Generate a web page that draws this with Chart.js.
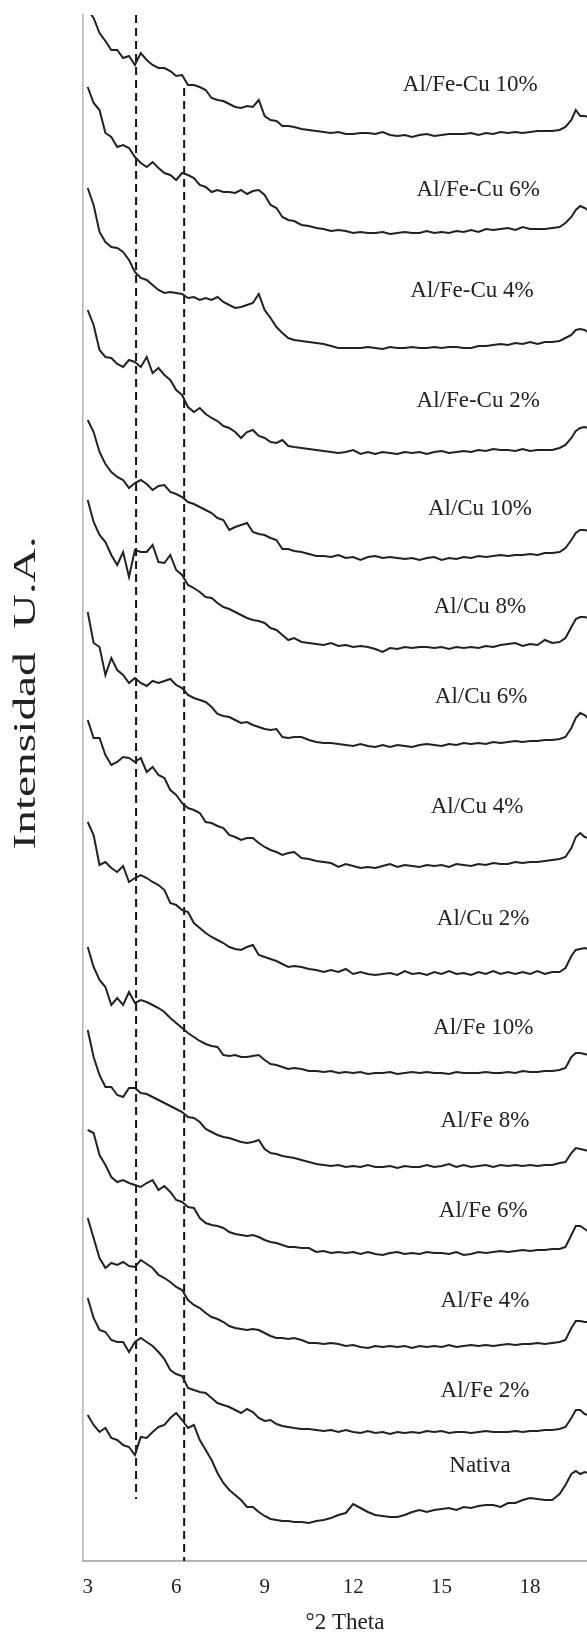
<!DOCTYPE html>
<html>
<head>
<meta charset="utf-8">
<script src="https://cdn.jsdelivr.net/npm/chart.js@4.4.1/dist/chart.umd.min.js"></script>
<style>
html,body{margin:0;padding:0;background:#fff;}
canvas{display:block;}
</style>
</head>
<body>
<canvas id="c" width="587" height="1635"></canvas>
<script>
// ---- data ----
const theta = [3.0,3.2,3.4,3.6,3.8,4.0,4.2,4.4,4.6,4.8,5.0,5.2,5.4,5.6,5.8,6.0,6.2,6.4,6.6,6.8,7.0,7.2,7.4,7.6,7.8,8.0,8.2,8.4,8.6,8.8,9.0,9.2,9.4,9.6,9.8,
  10.0,10.25,10.5,10.75,11.0,11.25,11.5,11.75,12.0,12.25,12.5,12.75,13.0,13.25,13.5,13.75,14.0,14.25,14.5,14.75,15.0,15.25,15.5,15.75,16.0,16.25,16.5,16.75,17.0,17.25,17.5,17.75,18.0,18.25,18.5,18.75,19.0,
  19.2,19.4,19.55,19.7,19.85,19.95];

const sampleNames = ["Al/Fe-Cu 10%","Al/Fe-Cu 6%","Al/Fe-Cu 4%","Al/Fe-Cu 2%","Al/Cu 10%","Al/Cu 8%","Al/Cu 6%","Al/Cu 4%","Al/Cu 2%","Al/Fe 10%","Al/Fe 8%","Al/Fe 6%","Al/Fe 4%","Al/Fe 2%","Nativa"];

// vertical offset (a.u.) of each pattern
const offsets = [1428,1331,1214,1109,1003,914,815,696,588,488,394,308,215,129,38];

const alFeCu10 = [123,115,100,92,83,83,75,77,68,80,73,68,65,65,62,57,58,48,48,46,43,35,33,32,29,26,25,27,26,33,17,13,12,7,7,
  6,4,3,2,1,0,1,-1,-1,0,0,-1,1,-2,-3,-2,-4,-2,-1,-3,-2,-1,-1,-1,0,-2,0,-1,1,0,1,0,1,2,2,2,3,
  6,13,23,17,17,16];
const alFeCu6 = [143,127,120,97,93,83,85,82,73,67,63,68,62,57,55,50,57,55,52,45,43,38,40,38,38,37,40,36,39,40,35,25,22,13,10,
  9,5,4,2,1,-1,0,-1,-3,-2,-3,-3,-2,-4,-3,-2,-3,-3,-1,-3,-2,-3,-1,-2,0,-2,1,0,1,2,0,3,1,1,1,2,3,
  7,13,20,24,22,20];
const alFeCu4 = [159,142,115,105,100,99,95,87,75,69,67,62,57,54,55,54,53,49,50,47,49,47,50,45,42,39,40,42,44,53,37,29,20,14,9,
  7,6,5,4,3,1,-1,-1,-1,-1,0,-1,-2,0,-1,-1,0,-1,-1,0,-1,0,0,-1,-1,1,1,2,3,2,4,3,5,3,5,5,6,
  9,12,17,18,17,15];
const alFeCu2 = [142,127,102,95,94,88,85,92,90,85,95,79,84,77,72,62,57,45,40,44,38,34,31,26,24,20,14,20,22,16,14,10,9,12,6,
  5,4,3,2,1,0,-1,0,2,-2,0,-2,0,-1,-2,0,-1,0,-2,0,1,-1,0,1,0,2,1,3,2,2,1,3,1,2,2,2,4,
  7,14,21,24,25,24];
const alCu10 = [138,126,106,94,86,81,78,70,75,78,74,68,72,73,66,64,61,56,54,51,48,45,40,38,28,31,33,35,26,24,23,20,18,9,9,
  7,6,4,2,2,1,3,0,1,-2,1,2,0,1,0,-1,0,-2,0,1,-2,0,-1,1,0,2,1,2,3,2,3,3,4,3,5,5,6,
  10,18,25,28,28,27];
const alCu8 = [147,125,112,105,92,82,95,70,97,95,95,102,85,84,92,77,72,62,59,55,50,49,44,40,38,35,32,29,27,26,24,19,17,12,7,
  9,5,4,3,2,4,1,2,0,1,0,-2,-5,-1,-2,0,-1,0,0,-1,0,-2,0,-1,0,-1,1,0,2,3,4,1,3,2,7,4,5,
  9,20,28,30,30,29];
const alCu6 = [134,103,99,71,88,76,71,63,68,63,60,65,63,65,67,61,58,51,48,46,44,39,32,30,29,26,23,24,21,19,17,16,17,9,8,
  9,9,6,4,3,3,2,1,0,2,0,-1,1,-1,1,0,-1,1,2,1,0,2,1,3,2,3,2,4,3,4,5,4,5,5,6,6,7,
  9,18,28,33,31,28];
const alCu4 = [145,127,127,110,100,103,108,107,103,107,93,98,90,87,75,70,62,57,55,52,43,42,39,37,30,28,25,27,27,22,18,15,13,10,12,
  13,7,6,4,3,2,-2,1,-1,-3,-2,-3,-1,1,-2,0,-1,-2,0,-1,0,-2,1,0,-1,1,0,2,1,1,3,2,3,3,4,5,6,
  8,17,28,32,28,27];
const alCu2 = [151,138,108,111,105,101,107,91,95,98,95,91,88,83,70,68,63,61,50,45,40,36,33,30,26,24,23,26,28,18,16,14,12,9,6,
  7,6,4,3,1,3,1,4,-1,1,-1,-2,-1,0,-2,2,-1,0,-2,1,-1,2,-1,0,-2,1,-1,2,-1,1,-1,1,-1,2,-1,1,1,
  5,17,23,24,25,24];
const alFe10 = [126,106,93,86,68,75,68,81,70,73,71,68,65,61,55,50,45,40,36,32,29,27,26,18,17,18,16,16,17,18,13,9,8,6,4,
  5,4,2,2,1,2,0,1,0,1,-1,0,0,1,-1,0,1,0,1,0,0,-1,1,0,0,0,1,0,0,1,0,2,1,1,2,2,3,
  5,16,20,20,19,18];
const alFe8 = [137,110,92,80,80,72,70,79,79,74,73,70,67,64,61,58,55,50,49,45,38,35,32,30,29,27,25,24,25,27,18,14,13,11,10,
  9,7,5,3,2,1,2,0,1,0,2,0,0,1,-1,1,0,0,2,0,1,3,0,2,0,1,2,0,2,1,2,1,2,1,2,2,4,
  5,14,19,18,17,16];
const alFe6 = [123,120,98,88,76,71,73,70,68,66,70,73,63,67,61,53,51,46,45,35,30,28,27,25,21,19,18,17,18,16,13,11,10,8,6,
  6,5,5,1,2,0,1,0,1,-1,1,-1,-2,0,1,-1,0,-1,1,0,0,-1,1,-2,-1,1,0,1,2,1,2,3,2,3,3,4,4,
  6,18,27,27,24,22];
const alFe4 = [128,108,88,78,83,81,84,80,79,86,82,78,71,68,64,59,56,46,41,38,33,29,27,24,20,18,17,16,17,16,13,10,8,8,7,
  8,6,3,3,2,3,2,0,1,-1,-2,0,-1,0,-1,0,-2,0,-1,0,-1,1,-1,0,1,0,1,0,1,2,1,2,2,3,2,3,4,
  6,18,25,25,24,24];
const alFe2 = [134,114,102,100,92,90,90,80,90,94,90,86,80,73,62,58,56,44,42,40,39,34,29,27,25,22,19,23,20,14,11,12,8,6,5,
  4,3,3,2,1,2,0,2,0,-1,1,-1,0,-2,0,-1,0,-1,1,0,1,-1,0,0,-1,0,1,0,0,0,1,0,1,1,2,2,3,
  5,14,22,22,18,17];
const nativa = [108,98,91,95,85,83,78,76,68,86,85,91,96,98,105,110,103,95,98,83,73,63,50,40,33,28,23,16,16,11,7,4,3,2,2,
  1,1,0,2,3,5,8,10,19,15,11,8,7,6,6,8,11,13,11,13,14,15,13,16,15,17,18,18,16,20,20,23,25,24,23,23,29,
  38,49,52,49,51,50];

const series = [alFeCu10,alFeCu6,alFeCu4,alFeCu2,alCu10,alCu8,alCu6,alCu4,alCu2,alFe10,alFe8,alFe6,alFe4,alFe2,nativa];

const xTicks = [3,6,9,12,15,18];

// reference dashed lines (°2θ) and their vertical extent (a.u.)
const refLinesX = [4.64, 6.27];
const refLinesTop = [1546, 1473];
const refLinesBottom = [62, 0];

// label anchors (°2θ, a.u.)
const labelX = [15.97,16.24,16.03,16.24,16.30,16.30,16.34,16.20,16.41,16.41,16.47,16.41,16.47,16.47,16.30];
const labelY = [1476,1371,1270,1160,1052,954,864,754,642,533,440,350,260,170,95];

// ---- build datasets ----
const datasets = series.map((s, k) => ({
  label: sampleNames[k],
  data: theta.map((x, i) => ({x: x, y: offsets[k] + s[i]})),
  borderColor: '#222222',
  borderWidth: 2,
  pointRadius: 0,
  tension: 0,
  fill: false,
  clip: 0
}));
refLinesX.forEach((x, k) => {
  datasets.push({
    label: 'ref' + k,
    data: [{x: x, y: refLinesTop[k]}, {x: x, y: refLinesBottom[k]}],
    borderColor: '#111',
    borderWidth: 2,
    borderDash: [8, 5],
    pointRadius: 0,
    fill: false,
    clip: 0
  });
});

const SERIF = '"Liberation Serif", "Times New Roman", serif';

const textPlugin = {
  id: 'texts',
  afterDraw(chart) {
    const ctx = chart.ctx;
    const xs = chart.scales.x, ys = chart.scales.y;
    ctx.save();
    ctx.fillStyle = '#222';
    // series labels
    ctx.font = '23px ' + SERIF;
    ctx.textAlign = 'center';
    ctx.textBaseline = 'middle';
    sampleNames.forEach((n, k) => {
      ctx.fillText(n, xs.getPixelForValue(labelX[k]), ys.getPixelForValue(labelY[k]));
    });
    // x title
    ctx.font = '23px ' + SERIF;
    ctx.fillText('°2 Theta', 345, 1623);
    // y title (stretched)
    ctx.save();
    ctx.translate(27, 693);
    ctx.rotate(-Math.PI / 2);
    ctx.font = '31px ' + SERIF;
    const t = 'Intensidad  U.A.';
    const w = ctx.measureText(t).width;
    ctx.scale(313 / w, 1);
    ctx.fillText(t, 0, 0);
    ctx.restore();
    ctx.restore();
  }
};

new Chart(document.getElementById('c').getContext('2d'), {
  type: 'line',
  data: {datasets: datasets},
  options: {
    responsive: false,
    animation: false,
    layout: {padding: {top: 15, left: 0, right: 0, bottom: 0}},
    plugins: {legend: {display: false}, tooltip: {enabled: false}, title: {display: false}},
    elements: {point: {radius: 0}, line: {tension: 0}},
    scales: {
      x: {
        type: 'linear', min: 2.84, max: 19.93,
        afterBuildTicks: s => { s.ticks = xTicks.map(v => ({value: v})); },
        afterFit: s => { s.height = 74; },
        grid: {display: false, drawTicks: false},
        border: {color: '#b4b4b4', width: 2},
        ticks: {font: {family: SERIF, size: 21}, color: '#222', padding: 14, maxRotation: 0, autoSkip: false}
      },
      y: {
        type: 'linear', min: 0, max: 1546,
        afterFit: s => { s.width = 83; },
        grid: {display: false, drawTicks: false},
        border: {color: '#b4b4b4', width: 1.5},
        ticks: {display: false}
      }
    }
  },
  plugins: [textPlugin]
});
</script>
</body>
</html>
